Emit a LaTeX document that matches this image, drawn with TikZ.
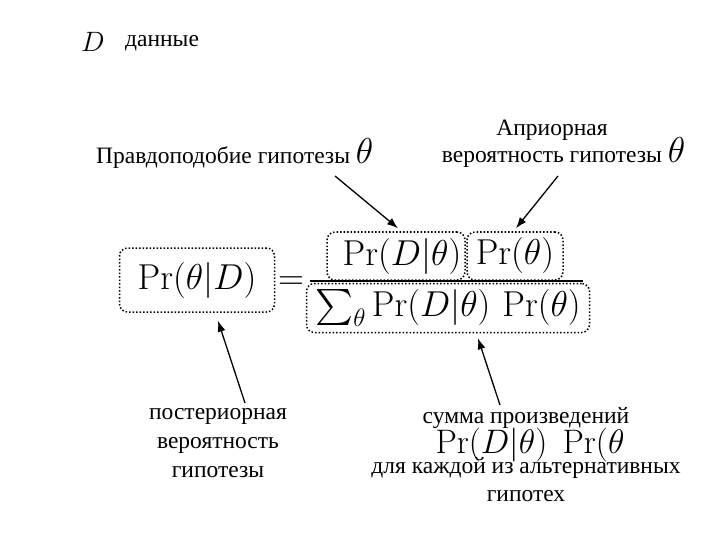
\RequirePackage{fix-cm}
\documentclass[tikz,border=0pt]{standalone}
\usepackage[no-math]{fontspec}
\setmainfont{Liberation Serif}
\newfontfamily\rufont{Liberation Serif}
\DeclareFontFamily{OMX}{cmex}{}
\DeclareFontShape{OMX}{cmex}{m}{n}{<-> cmex10}{}
\usetikzlibrary{arrows.meta,positioning,calc}
\newcommand\rutext{\rufont\fontsize{23.5}{28}\selectfont}
\newcommand\bigmath{\fontsize{36}{40}\selectfont}
\tikzset{
  dotbox/.style={draw, dotted, line width=1.5pt, rounded corners=8pt, inner sep=0pt, font=\bigmath},
  rulbl/.style={font=\rutext, inner sep=0pt, anchor=base},
  formula/.style={font=\bigmath, inner sep=0pt},
  arr/.style={-{Latex[length=11pt,width=8pt]}, line width=1.3pt}
}
\begin{document}
\begin{tikzpicture}[x=1pt,y=-1pt]
    \useasboundingbox[fill=white] (0,0) rectangle (720,540);
    % Data
    \node[formula, font=\fontsize{28}{32}\selectfont, anchor=base] (dsym) at (93,52) {$D$};
    \node[rulbl, anchor=base west] (dtext) at (125,47) {данные};
    % Bayes formula
    \node[dotbox, minimum width=155pt, minimum height=64pt] (post) at (197,280) {$\Pr(\theta|D)$};
    \node[formula] (eq) at (291,283) {$=$};
    \node[dotbox, minimum width=138pt, minimum height=48pt] (lik) at (396,256) {\hspace*{12pt}$\Pr(D|\theta)$};
    \node[dotbox, minimum width=96pt, minimum height=48pt] (prior) at (515,256) {$\Pr(\theta)$};
    \coordinate (barL) at (310,281);
    \coordinate (barR) at (583,281);
    \draw[line width=1.8pt] (barL) -- (barR);
    \node[dotbox, minimum width=283pt, minimum height=49pt] (den) at (448,308) {$\sum_\theta \Pr(D|\theta)\,\Pr(\theta)$};
    % Labels
    \node[rulbl, anchor=base west] (liklbl) at (96,164) {Правдоподобие гипотезы {\bigmath$\theta$}};
    \node[rulbl] (prilbl1) at (552,136) {Априорная};
    \node[rulbl] (prilbl2) at (552,163) {вероятность гипотезы\rlap{ {\bigmath$\theta$}}};
    \node[rulbl] (post1) at (218,419) {постериорная};
    \node[rulbl] (post2) at (218,448) {вероятность};
    \node[rulbl] (post3) at (218,477) {гипотезы};
    \node[rulbl] (sum1) at (526,423) {сумма произведений};
    \node[formula, font=\fontsize{34}{38}\selectfont, anchor=base] (sum2) at (530,453) {$\Pr(D|\theta)\;\Pr(\theta$};
    \node[rulbl] (sum3) at (526,473) {для каждой из альтернативных};
    \node[rulbl] (sum4) at (526,501) {гипотех};
    % Arrows
    \draw[arr] ($(liklbl.base west)+(239,12)$) -- ($(lik.north)+(2,-3)$);
    \draw[arr] ($(prilbl2.base)+(6,13)$) -- ($(prior.north)+(1,-3)$);
    \draw[arr] ($(post1.base)+(27,-16)$) -- ($(post.south)+(21,8)$);
    \draw[arr] ($(sum1.base)+(-26,-18)$) -- ($(den.south)+(30,5)$);
\end{tikzpicture}
\end{document}
